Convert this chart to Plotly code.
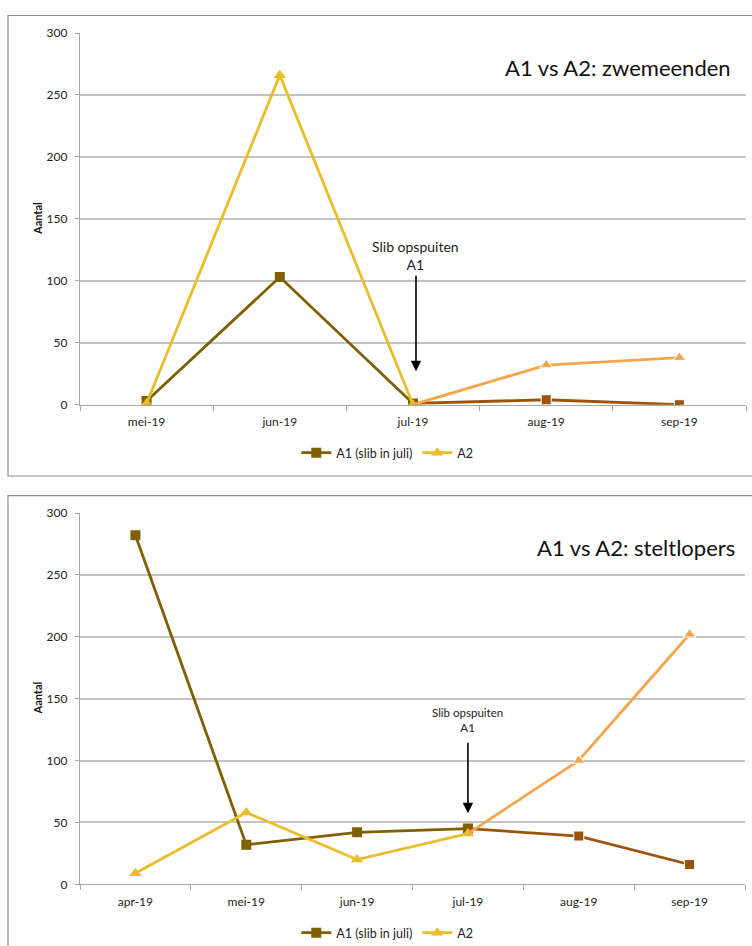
import plotly.graph_objects as go

# --- data -------------------------------------------------------------
zw_months = ["mei-19", "jun-19", "jul-19", "aug-19", "sep-19"]
zw_a1 = [3, 103, 1, 4, 0]
zw_a2 = [1, 266, 0, 32, 38]

st_months = ["apr-19", "mei-19", "jun-19", "jul-19", "aug-19", "sep-19"]
st_a1 = [282, 32, 42, 45, 39, 16]
st_a2 = [9, 58, 20, 41, 100, 202]

split_month = "jul-19"          # slib opspuiten in A1
yticks = [0, 50, 100, 150, 200, 250, 300]

# --- styling ----------------------------------------------------------
FONT = "Lato"
A1_PRE, A1_POST = "#7F6000", "#9E530B"
A2_PRE, A2_POST = "#E9BD2C", "#F5A54A"
GRID = "#C4C4C4"
AXIS = "#A6A6A6"
W, H = 752, 946

fig = go.Figure()


def add_series(months, vals, xa, ya, name, c_pre, c_post, symbol, size, legend):
    k = months.index(split_month)
    fig.add_trace(go.Scatter(
        x=months[:k + 1], y=vals[:k + 1], xaxis=xa, yaxis=ya, name=name,
        mode="lines+markers", line=dict(color=c_pre, width=2.8),
        marker=dict(symbol=symbol, size=size, color=c_pre, opacity=1),
        legend=legend, showlegend=True))
    post_x = months[k:]
    fig.add_trace(go.Scatter(
        x=post_x, y=vals[k:], xaxis=xa, yaxis=ya, name=name,
        mode="lines+markers", line=dict(color=c_post, width=2.8),
        marker=dict(symbol=symbol, color=c_post, opacity=1,
                    size=[0] + [size] * (len(post_x) - 1)),
        legend=legend, showlegend=False))


add_series(zw_months, zw_a1, "x", "y", "A1 (slib in juli)", A1_PRE, A1_POST, "square", 10, "legend")
add_series(zw_months, zw_a2, "x", "y", "A2", A2_PRE, A2_POST, "triangle-up", 11, "legend")
add_series(st_months, st_a1, "x2", "y2", "A1 (slib in juli)", A1_PRE, A1_POST, "square", 10, "legend2")
add_series(st_months, st_a2, "x2", "y2", "A2", A2_PRE, A2_POST, "triangle-up", 11, "legend2")


def px_x(p):
    return p / W


def px_y(p):
    return 1 - p / H


xaxis_common = dict(
    type="category", showgrid=False, showline=True, linecolor=AXIS, linewidth=1.3,
    ticks="outside", tickson="boundaries", ticklen=5, tickcolor=AXIS,
    ticklabelstandoff=6, automargin=False,
    tickfont=dict(family=FONT, size=12, color="#222"), zeroline=False,
    fixedrange=True)
yaxis_common = dict(
    range=[0, 300], tickvals=yticks, showgrid=True, gridcolor=GRID, gridwidth=1.5,
    showline=True, linecolor=AXIS, linewidth=1.3, ticks="outside", ticklen=4,
    ticklabelstandoff=5, automargin=False,
    tickcolor=AXIS, tickfont=dict(family=FONT, size=12, color="#222"),
    zeroline=False, fixedrange=True)

fig.update_layout(
    width=W, height=H, margin=dict(l=0, r=0, t=0, b=0, autoexpand=False),
    paper_bgcolor="white", plot_bgcolor="white",
    font=dict(family=FONT, color="#222"),
    xaxis=dict(xaxis_common, domain=[px_x(80), px_x(746)], anchor="y",
               range=[-0.5, len(zw_months) - 0.5]),
    yaxis=dict(yaxis_common, domain=[px_y(404.7), px_y(33)], anchor="x"),
    xaxis2=dict(xaxis_common, domain=[px_x(80), px_x(745)], anchor="y2",
                range=[-0.5, len(st_months) - 0.5]),
    yaxis2=dict(yaxis_common, domain=[px_y(884.3), px_y(513)], anchor="x2"),
    legend=dict(orientation="h", x=0.515, xanchor="center", y=px_y(453), yanchor="middle",
                font=dict(family=FONT, size=12.5), itemwidth=30, bgcolor="rgba(0,0,0,0)"),
    legend2=dict(orientation="h", x=0.515, xanchor="center", y=px_y(933), yanchor="middle",
                 font=dict(family=FONT, size=12.5), itemwidth=30, bgcolor="rgba(0,0,0,0)"),
)

# panel frames
fig.add_shape(type="rect", xref="paper", yref="paper",
              x0=px_x(8), x1=1.02, y0=px_y(476), y1=px_y(15.5),
              line=dict(color="#8E8E8E", width=1.2), layer="below")
fig.add_shape(type="rect", xref="paper", yref="paper",
              x0=px_x(8), x1=1.02, y0=-0.05, y1=px_y(495.7),
              line=dict(color="#8E8E8E", width=1.2), layer="below")

# titles
fig.add_annotation(text="A1 vs A2: zwemeenden", xref="paper", yref="paper",
                   x=px_x(733), y=px_y(67), xanchor="right", yanchor="middle",
                   showarrow=False, font=dict(family=FONT, size=22, color="#111"))
fig.add_annotation(text="A1 vs A2: steltlopers", xref="paper", yref="paper",
                   x=px_x(737), y=px_y(547), xanchor="right", yanchor="middle",
                   showarrow=False, font=dict(family=FONT, size=22, color="#111"))

# y-axis titles
for yc in (219, 698.5):
    fig.add_annotation(text="<b>Aantal</b>", xref="paper", yref="paper",
                       x=px_x(37), y=px_y(yc), xanchor="center", yanchor="middle",
                       textangle=-90, showarrow=False,
                       font=dict(family=FONT, size=11, color="#111"))

# "Slib opspuiten" markers with arrows
fig.add_annotation(text="Slib opspuiten<br>A1", xref="x", yref="paper",
                   x=split_month, y=px_y(256), xshift=2, xanchor="center", yanchor="middle",
                   showarrow=False, font=dict(family=FONT, size=14, color="#222"))
fig.add_annotation(text="", xref="x", yref="y", x=split_month, y=27, xshift=3,
                   ax=0, ay=-97, showarrow=True, arrowhead=2, arrowsize=1.3,
                   arrowwidth=1.6, arrowcolor="#000")
fig.add_annotation(text="Slib opspuiten<br>A1", xref="x2", yref="paper",
                   x=split_month, y=px_y(720), xanchor="center", yanchor="middle",
                   showarrow=False, font=dict(family=FONT, size=11.5, color="#222"))
fig.add_annotation(text="", xref="x2", yref="y2", x=split_month, y=57.5,
                   ax=0, ay=-72, showarrow=True, arrowhead=2, arrowsize=1.3,
                   arrowwidth=1.6, arrowcolor="#000")

fig.write_html("out.html")
